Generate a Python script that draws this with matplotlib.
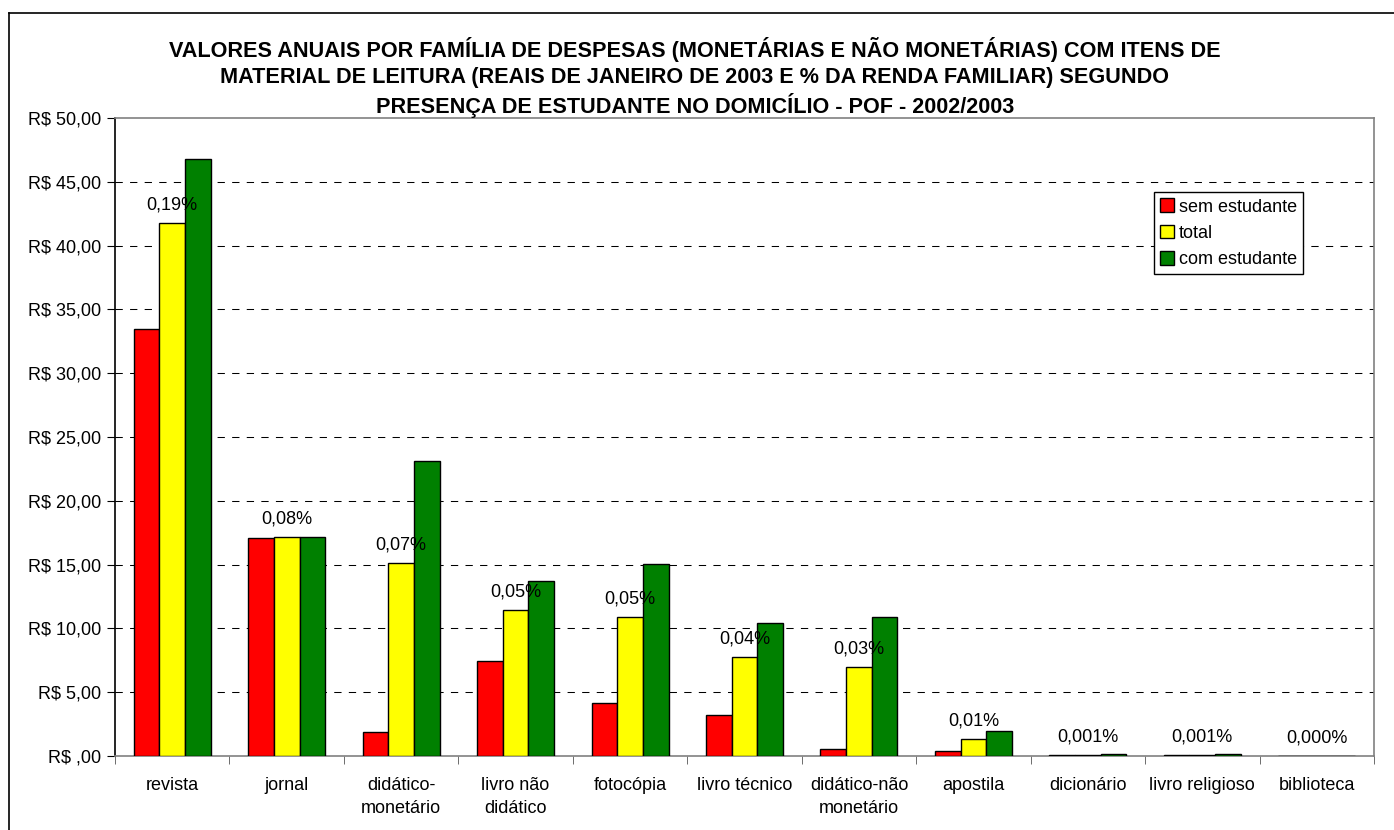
import numpy as np
import matplotlib
matplotlib.use("Agg")
from matplotlib import pyplot as plt
from matplotlib.lines import Line2D

plt.rcParams['font.family'] = ['Liberation Sans', 'DejaVu Sans']

categorias = ['revista', 'jornal', 'didático-\nmonetário', 'livro não\ndidático', 'fotocópia',
              'livro técnico', 'didático-não\nmonetário', 'apostila', 'dicionário',
              'livro religioso', 'biblioteca']
sem_estudante = [33.45, 17.08, 1.86, 7.47, 4.18, 3.24, 0.52, 0.42, 0.05, 0.05, 0.00]
total = [41.77, 17.14, 15.15, 11.44, 10.92, 7.73, 7.00, 1.36, 0.10, 0.10, 0.02]
com_estudante = [46.76, 17.19, 23.14, 13.74, 15.05, 10.40, 10.92, 1.93, 0.15, 0.15, 0.03]
pct_renda = ['0,19%', '0,08%', '0,07%', '0,05%', '0,05%', '0,04%', '0,03%', '0,01%',
             '0,001%', '0,001%', '0,000%']
y_ticks = [0, 5, 10, 15, 20, 25, 30, 35, 40, 45, 50]
y_labels = ['R$ ,00', 'R$ 5,00', 'R$ 10,00', 'R$ 15,00', 'R$ 20,00', 'R$ 25,00',
            'R$ 30,00', 'R$ 35,00', 'R$ 40,00', 'R$ 45,00', 'R$ 50,00']

fig = plt.figure(figsize=(13.94, 8.30), dpi=100)
ax = fig.add_axes([115/1394, 1-756/830, 1259/1394, 638/830])

x = np.arange(len(categorias))
w = 0.224
ax.bar(x - w, sem_estudante, w, color='#FF0000', edgecolor='black', linewidth=1, label='sem estudante', zorder=3)
ax.bar(x, total, w, color='#FFFF00', edgecolor='black', linewidth=1, label='total', zorder=3)
ax.bar(x + w, com_estudante, w, color='#008000', edgecolor='black', linewidth=1, label='com estudante', zorder=3)

for xi, v, t in zip(x, total, pct_renda):
    ax.annotate(t, (xi, v), xytext=(0, 13), textcoords='offset points',
                ha='center', va='center', fontsize=13, zorder=4)

ax.set_xlim(-0.5, len(categorias) - 0.5)
ax.set_ylim(0, 50)
ax.set_yticks(y_ticks)
ax.set_yticklabels(y_labels, fontsize=13)
ax.set_xticks(x)
ax.set_xticklabels(categorias, fontsize=13, linespacing=1.45)
ax.set_xticks(np.arange(len(categorias) + 1) - 0.5, minor=True)
ax.tick_params(axis='x', which='major', length=0, pad=15)
ax.tick_params(axis='x', which='minor', length=6, color='#555555')
ax.tick_params(axis='y', length=6, color='black', pad=4)

for yv in y_ticks[1:-1]:
    ax.axhline(yv, color='black', linewidth=0.75, linestyle=(0, (7, 7)), zorder=1)

ax.spines['left'].set_color('black')
for s in ['top', 'right', 'bottom']:
    ax.spines[s].set_color('#808080')
for s in ax.spines.values():
    s.set_linewidth(1.2)

leg = ax.legend(loc='upper left', bbox_to_anchor=(0.825, 0.884), fontsize=13,
                frameon=True, fancybox=False, edgecolor='black', framealpha=1,
                handlelength=0.8, handleheight=0.8, handletextpad=0.25,
                labelspacing=0.5, borderpad=0.35, borderaxespad=0)
leg.get_frame().set_linewidth(1)

titulo = ['VALORES ANUAIS POR FAMÍLIA DE DESPESAS (MONETÁRIAS E NÃO MONETÁRIAS) COM ITENS DE',
          'MATERIAL DE LEITURA (REAIS DE JANEIRO DE 2003 E % DA RENDA FAMILIAR) SEGUNDO',
          'PRESENÇA DE ESTUDANTE NO DOMICÍLIO - POF - 2002/2003']
for i, linha in enumerate(titulo):
    fig.text(695/1394, 1 - (49 + 28*i)/830, linha, ha='center', va='center',
             fontsize=15.6, fontweight='bold')

fig.add_artist(Line2D([9/1394, 1], [1-13/830, 1-13/830], transform=fig.transFigure, color='black', linewidth=1.2))
fig.add_artist(Line2D([9/1394, 9/1394], [0, 1-13/830], transform=fig.transFigure, color='black', linewidth=1.2))

fig.savefig('out.png', dpi=100)
